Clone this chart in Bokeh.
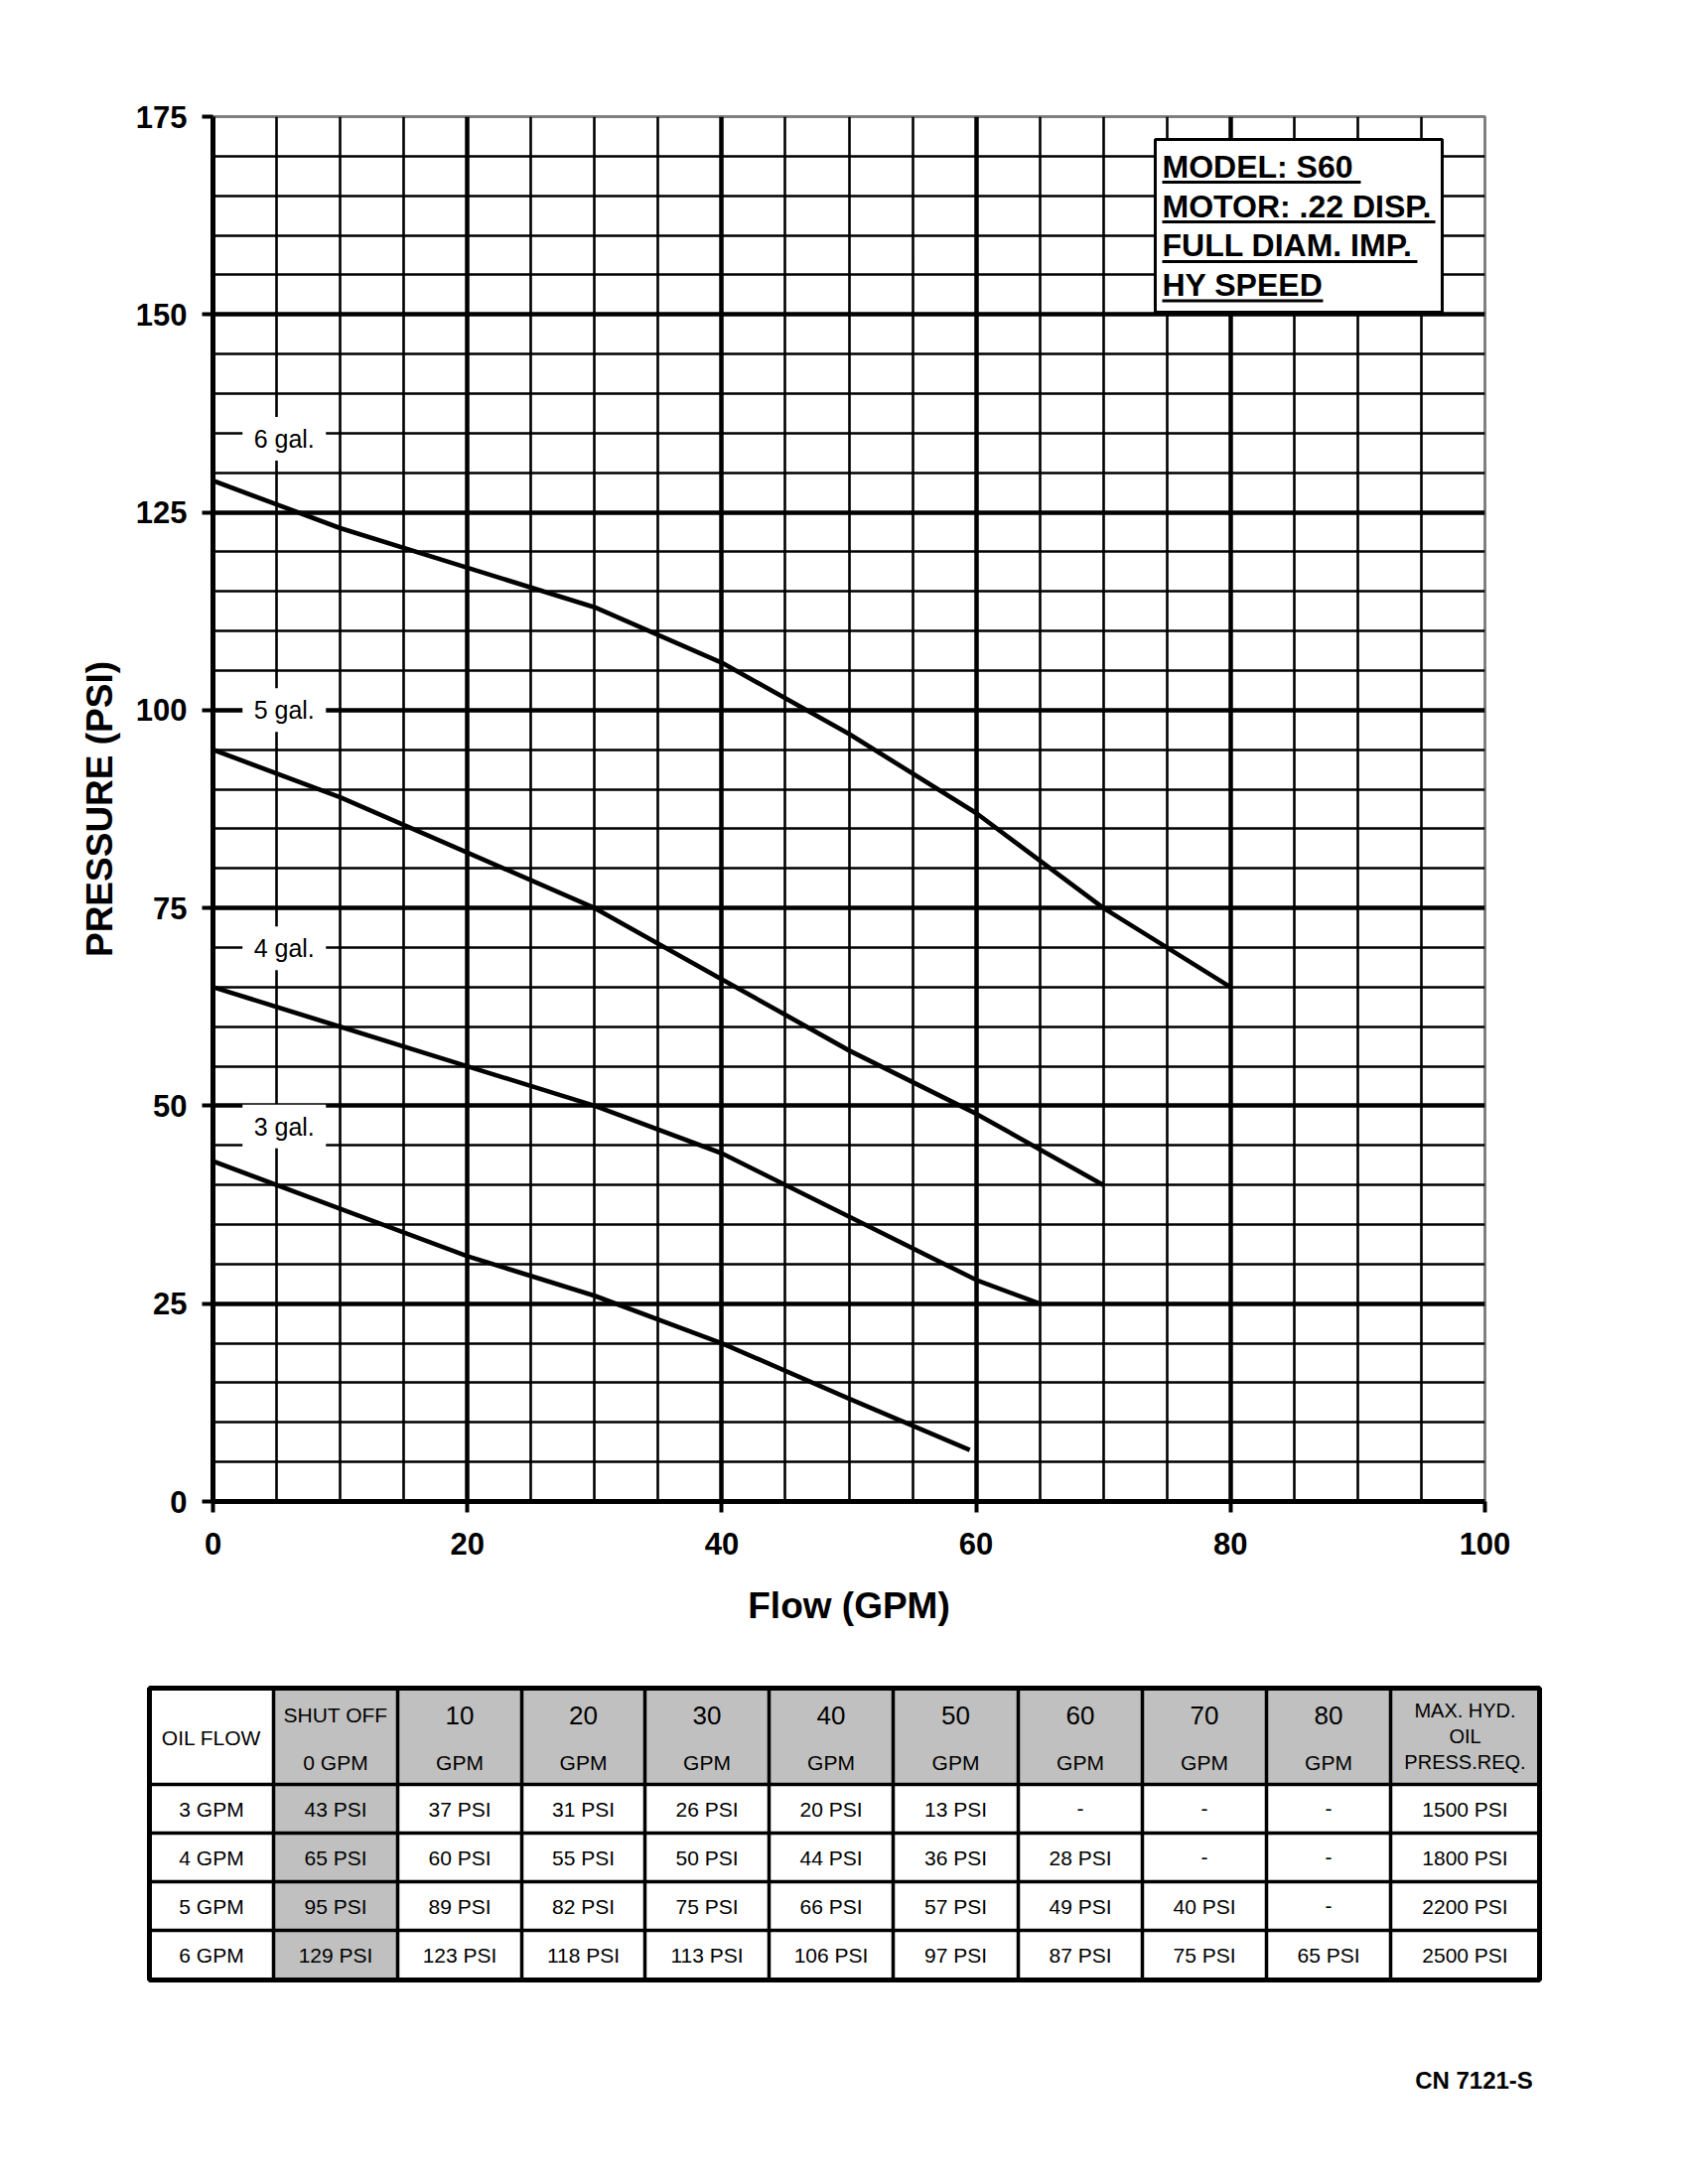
from bokeh.plotting import figure
from bokeh.models import Range1d, FixedTicker
from bokeh.embed import file_html
from bokeh.resources import INLINE
from bokeh.core.properties import value

FONT = "Liberation Sans"

# ---------------- data ----------------
flow_gpm = [0, 10, 20, 30, 40, 50, 60, 70, 80]
psi_3gpm = [43, 37, 31, 26, 20, 13]
psi_4gpm = [65, 60, 55, 50, 44, 36, 28]
psi_5gpm = [95, 89, 82, 75, 66, 57, 49, 40]
psi_6gpm = [129, 123, 118, 113, 106, 97, 87, 75, 65]
# where each drawn curve ends
end_3gpm = (59.5, 6.5)
end_4gpm = (65, 25)
oil_flow = ["3 GPM", "4 GPM", "5 GPM", "6 GPM"]
max_press = [1500, 1800, 2200, 2500]
curve_labels = ["3 gal.", "4 gal.", "5 gal.", "6 gal."]
label_psi = [47.4, 69.9, 100.0, 134.3]
label_gpm = 5.6
x_ticks = [0, 20, 40, 60, 80, 100]
y_ticks = [0, 25, 50, 75, 100, 125, 150, 175]
info_lines = ["MODEL: S60", "MOTOR: .22 DISP.", "FULL DIAM. IMP.", "HY SPEED"]

# ---------------- chart ----------------
W = 1690
CH = 1660
p = figure(width=W, height=CH, x_range=Range1d(0, 100), y_range=Range1d(0, 175),
           output_backend="svg", toolbar_location=None,
           min_border_left=214, min_border_right=W - 1495, min_border_top=117,
           min_border_bottom=CH - 1512)
p.background_fill_color = "white"
p.border_fill_color = "white"
p.outline_line_color = "#808080"
p.outline_line_width = 3

p.xaxis.ticker = FixedTicker(ticks=x_ticks)
p.yaxis.ticker = FixedTicker(ticks=y_ticks)
for ax in (p.xaxis, p.yaxis):
    ax.axis_line_width = 5
    ax.axis_line_color = "black"
    ax.major_tick_line_width = 4
    ax.major_tick_line_color = "black"
    ax.major_tick_out = 11
    ax.major_tick_in = 0
    ax.minor_tick_line_color = None
    ax.major_label_text_font = FONT
    ax.major_label_text_font_style = "bold"
    ax.major_label_text_font_size = "31px"
    ax.major_label_text_color = "black"
    ax.axis_label_text_font = FONT
    ax.axis_label_text_font_style = "bold"
    ax.axis_label_text_font_size = "37px"
    ax.axis_label_text_color = "black"
p.xaxis.axis_label = "Flow (GPM)"
p.yaxis.axis_label = "PRESSURE (PSI)"
p.xaxis.major_label_standoff = 20
p.yaxis.major_label_standoff = 15
p.xaxis.axis_label_standoff = 28
p.yaxis.axis_label_standoff = 13

p.xgrid.ticker = FixedTicker(ticks=[20, 40, 60, 80],
                             minor_ticks=[v for v in range(5, 100, 5) if v % 20])
p.ygrid.ticker = FixedTicker(ticks=[25, 50, 75, 100, 125, 150],
                             minor_ticks=[v for v in range(5, 175, 5) if v % 25])
for g in (p.xgrid, p.ygrid):
    g.grid_line_color = "black"
    g.grid_line_width = 4.5
    g.minor_grid_line_color = "black"
    g.minor_grid_line_width = 2.6

curves = [
    (flow_gpm[:len(psi_3gpm)] + [end_3gpm[0]], psi_3gpm + [end_3gpm[1]]),
    (flow_gpm[:len(psi_4gpm)] + [end_4gpm[0]], psi_4gpm + [end_4gpm[1]]),
    (flow_gpm[:len(psi_5gpm)], psi_5gpm),
    (flow_gpm[:len(psi_6gpm)], psi_6gpm),
]
for xs, ys in curves:
    p.line(xs, ys, line_color="black", line_width=4.6, line_join="round")

p.rect(x=[label_gpm] * 4, y=label_psi, width=84, height=44,
       width_units="screen", height_units="screen",
       fill_color="white", line_color=None)
p.text(x=[label_gpm] * 4, y=label_psi, text=curve_labels,
       text_font=value(FONT), text_font_size="25px", text_color="black",
       text_align="center", text_baseline="middle")

# info box (positions in data units of the chart)
p.quad(left=[74.08], right=[96.64], bottom=[150.29], top=[172.12],
       fill_color="white", line_color="black", line_width=3)
info_mid = [168.7, 163.7, 158.7, 153.7]
info_under = [166.73, 161.71, 156.69, 151.74]
info_under_end = [90.24, 96.10, 94.69, 87.27]
p.text(x=[74.63] * 4, y=info_mid, text=info_lines,
       text_font=value(FONT), text_font_style="bold", text_font_size="32px",
       text_color="black", text_align="left", text_baseline="middle")
p.segment(x0=[74.63] * 4, y0=info_under, x1=info_under_end, y1=info_under,
          line_color="black", line_width=3)

# ---------------- table ----------------
TH = 530
t = figure(width=W, height=TH, x_range=Range1d(0, W), y_range=Range1d(CH + TH, CH),
           output_backend="svg", toolbar_location=None,
           x_axis_type=None, y_axis_type=None, min_border=0,
           min_border_left=0, min_border_right=0, min_border_top=0, min_border_bottom=0)
t.outline_line_color = None
t.background_fill_color = "white"
t.border_fill_color = "white"
t.grid.grid_line_color = None

col_edges = [150, 275, 400, 525, 649, 774, 899, 1025, 1150, 1275, 1400, 1550]
row_edges = [1700, 1797, 1846, 1895, 1944, 1994]
grey = "#c0c0c0"

t.quad(left=[col_edges[1]], right=[col_edges[-1]], top=[row_edges[0]], bottom=[row_edges[1]],
       fill_color=grey, line_color=None)
t.quad(left=[col_edges[1]], right=[col_edges[2]], top=[row_edges[1]], bottom=[row_edges[-1]],
       fill_color=grey, line_color=None)

vx = col_edges[1:-1]
t.segment(x0=vx, y0=[row_edges[0]] * len(vx), x1=vx, y1=[row_edges[-1]] * len(vx),
          line_color="black", line_width=3.5)
hy = row_edges[1:-1]
t.segment(x0=[col_edges[0]] * len(hy), y0=hy, x1=[col_edges[-1]] * len(hy), y1=hy,
          line_color="black", line_width=3.5)
t.quad(left=[col_edges[0]], right=[col_edges[-1]], top=[row_edges[0]], bottom=[row_edges[-1]],
       fill_color=None, line_color="black", line_width=5)

cx = [(a + b) / 2 for a, b in zip(col_edges[:-1], col_edges[1:])]
ry = [(a + b) / 2 for a, b in zip(row_edges[1:-1], row_edges[2:])]

txt_kw = dict(text_font=value(FONT), text_color="black", text_align="center", text_baseline="middle")

t.text(x=[cx[0]], y=[1750], text=["OIL FLOW"], text_font_size="21px", **txt_kw)
t.text(x=[cx[1]], y=[1727], text=["SHUT OFF"], text_font_size="21px", **txt_kw)
t.text(x=cx[2:10], y=[1727] * 8, text=[str(v) for v in flow_gpm[1:]], text_font_size="26px", **txt_kw)
t.text(x=cx[1:10], y=[1775] * 9, text=["0 GPM"] + ["GPM"] * 8, text_font_size="21px", **txt_kw)
t.text(x=[cx[10]] * 3, y=[1722, 1748, 1774], text=["MAX. HYD.", "OIL", "PRESS.REQ."],
       text_font_size="20px", **txt_kw)

series = [psi_3gpm, psi_4gpm, psi_5gpm, psi_6gpm]
bx, by, bt = [], [], []
for r, vals in enumerate(series):
    bx.append(cx[0]); by.append(ry[r]); bt.append(oil_flow[r])
    for c in range(9):
        bx.append(cx[1 + c]); by.append(ry[r])
        bt.append(f"{vals[c]} PSI" if c < len(vals) else "-")
    bx.append(cx[10]); by.append(ry[r]); bt.append(f"{max_press[r]} PSI")
t.text(x=bx, y=by, text=bt, text_font_size="21px", **txt_kw)

t.text(x=[1484], y=[2095], text=["CN 7121-S"], text_font=value(FONT), text_font_style="bold",
       text_font_size="24px", text_color="black", text_align="center", text_baseline="middle")

open("out.html", "w").write(file_html([p, t], INLINE))
